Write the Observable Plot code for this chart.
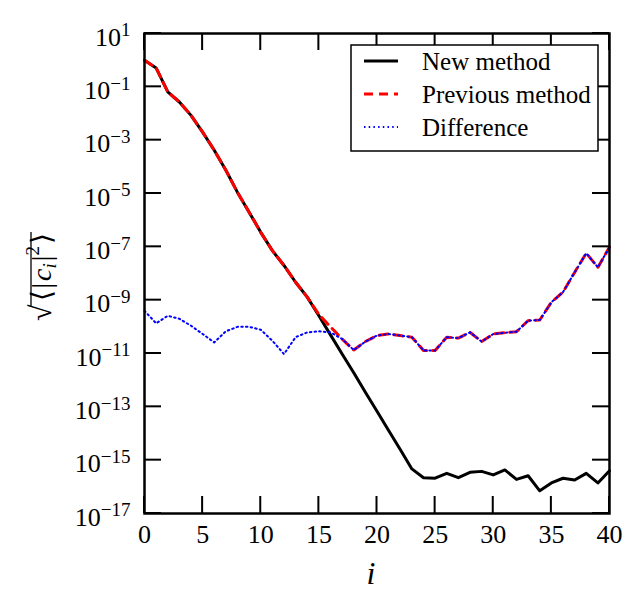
<!DOCTYPE html>
<html><head><meta charset="utf-8">
<script src="https://cdn.jsdelivr.net/npm/d3@7"></script>
<script src="https://cdn.jsdelivr.net/npm/@observablehq/plot@0.6"></script>
<style>html,body{margin:0;padding:0;background:#fff}svg{display:block}</style>
</head><body><div id="chart"></div>
<script>
const newMethod = [1.0, 5.1e-1, 6.5e-2, 2.7e-2, 8.5e-3, 2.0e-3, 4.2e-4, 7.4e-5, 1.1e-5, 2.0e-6,
  3.5e-7, 7.2e-8, 2.0e-8, 4.7e-9, 1.3e-9, 2.6e-10, 5.0e-11, 9.5e-12, 1.9e-12, 3.5e-13,
  6.8e-14, 1.3e-14, 2.5e-15, 4.7e-16, 2.2e-16, 2.1e-16, 3.2e-16, 2.2e-16, 3.5e-16, 3.8e-16,
  2.8e-16, 4.3e-16, 1.9e-16, 2.6e-16, 7.1e-17, 1.4e-16, 2.1e-16, 1.8e-16, 3.2e-16, 1.4e-16, 4.0e-16];
const previousMethod = [1.0, 5.1e-1, 6.5e-2, 2.7e-2, 8.5e-3, 2.0e-3, 4.2e-4, 7.4e-5, 1.1e-5, 2.0e-6,
  3.5e-7, 7.2e-8, 2.0e-8, 4.7e-9, 1.3e-9, 2.9e-10, 1.0e-10, 3.5e-11, 1.35e-11, 2.8e-11,
  4.7e-11, 5.4e-11, 4.7e-11, 4.1e-11, 1.3e-11, 1.3e-11, 4.1e-11, 3.8e-11, 6.2e-11, 2.8e-11,
  5.4e-11, 6.0e-11, 6.6e-11, 1.7e-10, 1.8e-10, 8.3e-10, 2.0e-9, 1.1e-8, 5.8e-8, 1.7e-8, 9.8e-8];
const difference = [4.0e-10, 1.35e-10, 2.6e-10, 2.0e-10, 1.1e-10, 5.4e-11, 2.6e-11, 6.8e-11, 1.0e-10, 1.0e-10,
  7.8e-11, 3.0e-11, 9.5e-12, 4.1e-11, 6.2e-11, 6.8e-11, 6.2e-11, 3.5e-11, 1.35e-11, 2.8e-11,
  4.7e-11, 5.4e-11, 4.7e-11, 4.1e-11, 1.3e-11, 1.3e-11, 4.1e-11, 3.8e-11, 6.2e-11, 2.8e-11,
  5.4e-11, 6.0e-11, 6.6e-11, 1.7e-10, 1.8e-10, 8.3e-10, 2.0e-9, 1.1e-8, 5.8e-8, 1.7e-8, 9.8e-8];
const xTicks = [0, 5, 10, 15, 20, 25, 30, 35, 40];
const yTicks = [1e1, 1e-1, 1e-3, 1e-5, 1e-7, 1e-9, 1e-11, 1e-13, 1e-15, 1e-17];
const seriesNames = ["New method", "Previous method", "Difference"];
const xLabel = "i";

const font = "'Liberation Serif', 'Times New Roman', serif";
const rows = arr => arr.map((v, i) => ({i, v}));
const seriesStyles = [
  {stroke: "black", strokeWidth: 3, dash: null},
  {stroke: "red", strokeWidth: 3, dash: "9,6"},
  {stroke: "blue", strokeWidth: 2, dash: "1.5,3.2"}
];
const allSeries = [newMethod, previousMethod, difference];

const W = 643, H = 612, mL = 144, mR = 34, mT = 33, mB = 99;
const tickLen = 17, tickW = 2;

const plot = Plot.plot({
  width: W, height: H,
  marginLeft: mL, marginRight: mR, marginTop: mT, marginBottom: mB,
  style: {fontFamily: font},
  x: {domain: [0, 40], label: null},
  y: {type: "log", domain: [1e-17, 1e1], label: null},
  marks: [
    ...allSeries.map((s, k) => Plot.lineY(rows(s), {
      x: "i", y: "v", stroke: seriesStyles[k].stroke, strokeWidth: seriesStyles[k].strokeWidth,
      strokeDasharray: seriesStyles[k].dash, strokeLinejoin: "round"
    })),
    Plot.frame({stroke: "black", strokeWidth: 2.5}),
    Plot.axisX(xTicks, {anchor: "bottom", tickSize: 0, tickPadding: 11, fontSize: 26, fill: "black", label: null}),
    Plot.axisY(yTicks, {anchor: "left", tickSize: 0, tickPadding: 14, fontSize: 26, fill: "black", label: null,
      tickFormat: d => "10^" + String(Math.round(Math.log10(d))).replace("-", "\u2212")})
  ]
});
document.getElementById("chart").appendChild(plot);

const svg = d3.select(plot);
const sxs = plot.scale("x"), sys = plot.scale("y");
const fx = d3.scaleLinear(sxs.domain, sxs.range);
const fy = d3.scaleLog(sys.domain, sys.range);
const x0 = mL, x1 = W - mR, y0 = mT, y1 = H - mB;

// inward ticks on all four sides (filled bars), placed with Plot's own scale domains/ranges
const tg = svg.append("g");
const bar = (x, y, w, h) => tg.append("rect")
  .attr("x", x).attr("y", y).attr("width", w).attr("height", h).attr("fill", "black");
xTicks.forEach(v => {
  const px = fx(v);
  bar(px - tickW / 2, y1 - tickLen, tickW, tickLen);
  bar(px - tickW / 2, y0, tickW, tickLen);
});
yTicks.forEach(v => {
  const py = fy(v);
  bar(x0, py - tickW / 2, tickLen, tickW);
  bar(x1 - tickLen, py - tickW / 2, tickLen, tickW);
});

// superscript exponents in y tick labels
svg.selectAll('g[aria-label="y-axis tick label"] text').each(function() {
  const t = d3.select(this);
  const s = t.text();
  if (s.indexOf("^") < 0) return;
  const [base, exp] = s.split("^");
  t.text("");
  t.attr("transform", function() { return (this.getAttribute("transform") || "") + " translate(0,4)"; });
  t.append("tspan").text(base);
  t.append("tspan").attr("dy", "-0.5em").style("font-size", "19px").text(exp);
});

// x label
svg.append("text")
  .attr("x", 371).attr("y", 584)
  .attr("text-anchor", "middle")
  .style("font-family", font).style("font-size", "32px").style("font-style", "italic")
  .text(xLabel);

// y label: sqrt(<|c_i|^2>)
const ylg = svg.append("g").attr("transform", "translate(51,277) rotate(-90)");
const yl = ylg.append("text")
  .attr("text-anchor", "middle")
  .style("font-family", font).style("font-size", "28px");
yl.append("tspan").style("font-size", "30px").text("\u221A");
yl.append("tspan").attr("dx", 3).text("\u27E8");
yl.append("tspan").attr("dx", 2).text("|");
yl.append("tspan").attr("dx", 2).style("font-style", "italic").text("c");
yl.append("tspan").style("font-style", "italic").style("font-size", "19px").attr("dy", 5).text("i");
yl.append("tspan").attr("dx", 2).attr("dy", -5).text("|");
yl.append("tspan").style("font-size", "19px").attr("dy", -12).text("2");
yl.append("tspan").attr("dx", 2).attr("dy", 12).text("\u27E9");
{
  const node = yl.node();
  const bb = node.getBBox();
  const sw = node.getSubStringLength(0, 1);
  ylg.append("line")
    .attr("x1", bb.x + sw - 1.5).attr("x2", bb.x + bb.width + 1)
    .attr("y1", -20).attr("y2", -20)
    .attr("stroke", "black").attr("stroke-width", 1.3);
}

// legend
const lg = svg.append("g");
lg.append("rect").attr("x", 351).attr("y", 45).attr("width", 247).attr("height", 106)
  .attr("fill", "white").attr("stroke", "black").attr("stroke-width", 1.5);
seriesNames.forEach((name, k) => {
  const cy = 61 + k * 33;
  lg.append("line").attr("x1", 364).attr("x2", 398).attr("y1", cy).attr("y2", cy)
    .attr("stroke", seriesStyles[k].stroke).attr("stroke-width", seriesStyles[k].strokeWidth)
    .attr("stroke-dasharray", seriesStyles[k].dash);
  lg.append("text").attr("x", 422).attr("y", cy + 8.5).attr("text-anchor", "start")
    .style("font-family", font).style("font-size", "25px").attr("fill", "black").text(name);
});
</script>
</body></html>
